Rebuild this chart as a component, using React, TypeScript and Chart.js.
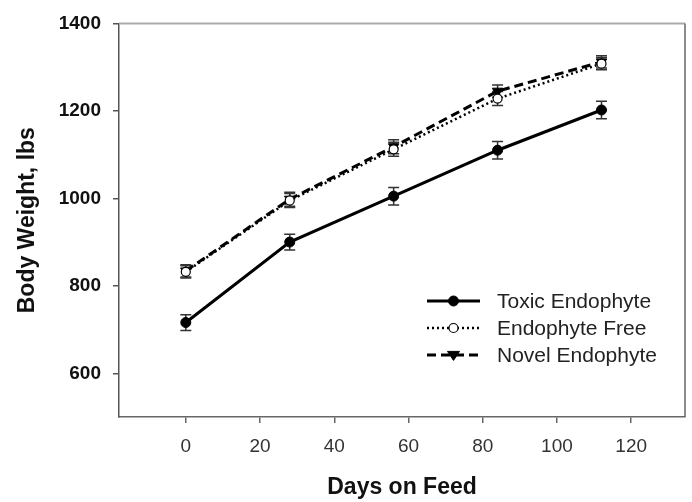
import React, { useEffect, useRef } from "react";
import { Chart, registerables } from "chart.js";

Chart.register(...registerables);

// ---- data ----
const days = [0, 28, 56, 84, 112];
const toxic = [716, 900, 1005, 1110, 1202];
const toxicErr = [18, 18, 20, 20, 20];
const free = [832, 995, 1112, 1228, 1308];
const freeErr = [14, 16, 16, 16, 14];
const novel = [834, 998, 1118, 1245, 1312];
const novelErr = [14, 16, 16, 14, 14];
const xTicks = [0, 20, 40, 60, 80, 100, 120];
const yTicks = [600, 800, 1000, 1200, 1400];
const seriesLabels = ["Toxic Endophyte", "Endophyte Free", "Novel Endophyte"];

const FONT = "'Liberation Sans', Arial, sans-serif";

const errorBarsPlugin = {
  id: "errorBars",
  beforeDatasetsDraw(chart: any) {
    const ctx = chart.ctx;
    const xs = chart.scales.x;
    const ys = chart.scales.y;
    ctx.save();
    ctx.strokeStyle = "#333";
    ctx.lineWidth = 1.5;
    ctx.setLineDash([]);
    chart.data.datasets.forEach((ds: any) => {
      const errs: number[] = ds.errors || [];
      ds.data.forEach((p: any, i: number) => {
        const px = xs.getPixelForValue(p.x);
        const t = ys.getPixelForValue(p.y + errs[i]);
        const b = ys.getPixelForValue(p.y - errs[i]);
        const hw = 5.5;
        ctx.beginPath();
        ctx.moveTo(px, t);
        ctx.lineTo(px, b);
        ctx.moveTo(px - hw, t);
        ctx.lineTo(px + hw, t);
        ctx.moveTo(px - hw, b);
        ctx.lineTo(px + hw, b);
        ctx.stroke();
      });
    });
    ctx.restore();
  },
};

const framePlugin = {
  id: "frame",
  afterDraw(chart: any) {
    const { ctx, chartArea } = chart;
    ctx.save();
    ctx.setLineDash([]);
    ctx.strokeStyle = "#aaa";
    ctx.lineWidth = 2;
    ctx.beginPath();
    ctx.moveTo(chartArea.left, chartArea.top);
    ctx.lineTo(chartArea.right, chartArea.top);
    ctx.stroke();
    ctx.strokeStyle = "#666";
    ctx.lineWidth = 1.5;
    ctx.beginPath();
    ctx.moveTo(chartArea.right, chartArea.top);
    ctx.lineTo(chartArea.right, chartArea.bottom);
    ctx.stroke();
    ctx.restore();
  },
};

const legendPlugin = {
  id: "insideLegend",
  afterDraw(chart: any) {
    const { ctx, chartArea } = chart;
    ctx.save();
    const x0 = chartArea.right - 258;
    const x1 = chartArea.right - 205;
    const xm = (x0 + x1) / 2;
    const tx = chartArea.right - 188;
    const y0 = chartArea.bottom - 116;
    chart.data.datasets.forEach((ds: any, i: number) => {
      const y = y0 + i * 27;
      ctx.strokeStyle = ds.borderColor;
      ctx.lineWidth = ds.borderWidth;
      ctx.setLineDash(ds.borderDash || []);
      ctx.beginPath();
      ctx.moveTo(x0, y);
      ctx.lineTo(x1, y);
      ctx.stroke();
      ctx.setLineDash([]);
      // marker
      ctx.lineWidth = ds.pointBorderWidth;
      ctx.strokeStyle = ds.pointBorderColor;
      ctx.fillStyle = ds.pointBackgroundColor;
      const r = ds.pointRadius;
      ctx.beginPath();
      if (ds.pointStyle === "triangle") {
        ctx.moveTo(xm - r, y - r * 0.6);
        ctx.lineTo(xm + r, y - r * 0.6);
        ctx.lineTo(xm, y + r * 0.9);
        ctx.closePath();
      } else {
        ctx.arc(xm, y, r, 0, Math.PI * 2);
      }
      ctx.fill();
      ctx.stroke();
      ctx.fillStyle = "#222";
      ctx.font = `21px ${FONT}`;
      ctx.textBaseline = "middle";
      ctx.textAlign = "left";
      ctx.fillText(ds.label, tx, y + 1);
    });
    ctx.restore();
  },
};

export default function App() {
  const ref = useRef<HTMLCanvasElement | null>(null);
  useEffect(() => {
    if (!ref.current) return;
    const mk = (ys: number[]) => days.map((d, i) => ({ x: d, y: ys[i] }));
    const chart = new Chart(ref.current, {
      type: "line",
      data: {
        datasets: [
          {
            label: seriesLabels[0],
            data: mk(toxic),
            errors: toxicErr,
            borderColor: "#000",
            borderWidth: 3,
            borderDash: [],
            pointStyle: "circle",
            pointRadius: 5,
            pointBackgroundColor: "#000",
            pointBorderColor: "#000",
            pointBorderWidth: 1,
          } as any,
          {
            label: seriesLabels[1],
            data: mk(free),
            errors: freeErr,
            borderColor: "#000",
            borderWidth: 2.5,
            borderDash: [2, 3],
            pointStyle: "circle",
            pointRadius: 4.5,
            pointBackgroundColor: "#fff",
            pointBorderColor: "#000",
            pointBorderWidth: 1.2,
          } as any,
          {
            label: seriesLabels[2],
            data: mk(novel),
            errors: novelErr,
            borderColor: "#000",
            borderWidth: 3,
            borderDash: [9, 5],
            pointStyle: "triangle",
            pointRotation: 180,
            pointRadius: 6,
            pointBackgroundColor: "#000",
            pointBorderColor: "#000",
            pointBorderWidth: 1,
          } as any,
        ],
      },
      options: {
        animation: false,
        responsive: true,
        maintainAspectRatio: false,
        layout: { padding: { top: 20, right: 4, left: 0, bottom: 0 } },
        plugins: { legend: { display: false }, tooltip: { enabled: false } },
        scales: {
          x: {
            type: "linear",
            min: -18,
            max: 134.5,
            afterBuildTicks: (s: any) => {
              s.ticks = xTicks.map((v) => ({ value: v }));
            },
            afterFit: (s: any) => {
              s.height = 85;
            },
            grid: {
              drawOnChartArea: false,
              drawTicks: true,
              tickLength: 6,
              color: "#666",
              lineWidth: 1.5,
            },
            border: { display: true, color: "#666", width: 1.5 },
            ticks: {
              color: "#333",
              padding: 12,
              font: { family: FONT, size: 19 },
              callback: (v: any) => String(v),
            },
            title: {
              display: true,
              text: "Days on Feed",
              color: "#111",
              font: { family: FONT, size: 23, weight: "bold" },
              padding: { top: 0, bottom: 1 },
            },
          },
          y: {
            type: "linear",
            min: 500,
            max: 1400,
            afterBuildTicks: (s: any) => {
              s.ticks = yTicks.map((v) => ({ value: v }));
            },
            afterFit: (s: any) => {
              s.width = 119;
            },
            grid: {
              drawOnChartArea: false,
              drawTicks: true,
              tickLength: 6,
              color: "#555",
              lineWidth: 1.5,
            },
            border: { display: true, color: "#555", width: 1.5 },
            ticks: {
              color: "#111",
              padding: 12,
              font: { family: FONT, size: 19, weight: "bold" },
              callback: (v: any) => String(v),
            },
            title: {
              display: true,
              text: "Body Weight, lbs",
              color: "#111",
              font: { family: FONT, size: 23, weight: "bold" },
              padding: { top: 14, bottom: 0 },
            },
          },
        },
      },
      plugins: [errorBarsPlugin, framePlugin, legendPlugin],
    });
    return () => chart.destroy();
  }, []);
  return (
    <div style={{ position: "fixed", left: 0, top: 0, width: 692, height: 502, background: "#fff" }}>
      <canvas ref={ref} />
    </div>
  );
}
